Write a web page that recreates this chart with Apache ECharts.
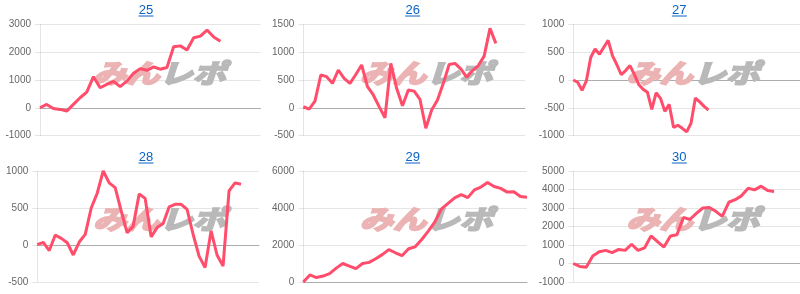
<!DOCTYPE html>
<html><head><meta charset="utf-8">
<script src="https://cdn.jsdelivr.net/npm/echarts@6/dist/echarts.min.js"></script>
<style>html,body{margin:0;padding:0;background:#fff}#c{width:800px;height:294px}</style>
</head><body><div id="c"></div>
<script>
// ---- data ----
const titles = ['25', '26', '27', '28', '29', '30'];
const slotCounts = [34, 39, 53, 38, 35, 36];
const s25 = [0, 120, -25, -60, -120, 120, 360, 565, 1120, 720, 840, 950, 760, 960, 1240, 1410, 1350, 1470, 1390, 1450, 2200, 2230, 2080, 2520, 2580, 2800, 2550, 2400];
const s26 = [18, -25, 120, 590, 560, 440, 680, 530, 440, 600, 770, 380, 230, 20, -180, 800, 350, 35, 320, 300, 150, -370, -40, 140, 440, 780, 800, 700, 550, 670, 760, 930, 1430, 1160];
const s27 = [0, -40, -185, -15, 405, 560, 465, 590, 715, 435, 275, 95, 170, 260, 100, -80, -165, -220, -530, -230, -330, -565, -440, -855, -815, -870, -935, -780, -325, -395, -475, -540];
const s28 = [5, 35, -75, 135, 90, 30, -135, 40, 144, 500, 700, 1000, 840, 775, 460, 165, 255, 690, 630, 110, 235, 290, 515, 550, 550, 480, 145, -150, -305, 190, -135, -285, 730, 840, 820];
const s29 = [0, 380, 240, 320, 450, 750, 1000, 860, 720, 1000, 1060, 1260, 1480, 1750, 1580, 1420, 1800, 1900, 2300, 2750, 3250, 3950, 4250, 4550, 4720, 4560, 4980, 5130, 5380, 5160, 5060, 4860, 4880, 4620, 4580];
const s30 = [0, -160, -200, 400, 640, 710, 590, 760, 710, 1040, 710, 840, 1490, 1180, 890, 1490, 1550, 2490, 2380, 2710, 3000, 3030, 2820, 2550, 3310, 3450, 3670, 4070, 3980, 4180, 3950, 3890];
const yMin = [-1000, -500, -1000, -500, 0, -1000];
const yMax = [3000, 1500, 1000, 1000, 6000, 5000];
const yStep = [1000, 500, 500, 500, 2000, 1000];
const seriesData = [s25, s26, s27, s28, s29, s30];

// ---- layout ----
const gridBoxes = [
  {left: 40, top: 24.5, width: 220.5, height: 111},
  {left: 303.3, top: 24.5, width: 221.7, height: 111},
  {left: 573.3, top: 24.5, width: 226.7, height: 111},
  {left: 37.3, top: 171, width: 221.7, height: 111},
  {left: 303.3, top: 171, width: 223.7, height: 111},
  {left: 573.3, top: 171, width: 226.7, height: 111}
];
const panelLeft = [0, 266.67, 533.33];
const rowTitleY = [10, 157];
const rowLogoY = [73, 219];

const FONT = '"Liberation Sans", Arial, Helvetica, sans-serif';
const grids = [], xAxes = [], yAxes = [], series = [], graphics = [];
for (let i = 0; i < 6; i++) {
  const col = i % 3, row = Math.floor(i / 3);
  grids.push(Object.assign({containLabel: false}, gridBoxes[i]));
  const cats = [];
  for (let k = 0; k < slotCounts[i]; k++) cats.push(String(k + 1));
  xAxes.push({
    type: 'category', gridIndex: i, data: cats, boundaryGap: false,
    axisLine: {show: true, onZero: true, lineStyle: {color: 'rgba(0,0,0,0.25)', width: 1}},
    axisTick: {show: false}, axisLabel: {show: false}, splitLine: {show: false}
  });
  yAxes.push({
    type: 'value', gridIndex: i, min: yMin[i], max: yMax[i], interval: yStep[i],
    axisLine: {show: true, lineStyle: {color: 'rgba(0,0,0,0.1)'}},
    axisTick: {show: true, length: 5, lineStyle: {color: 'rgba(0,0,0,0.1)'}},
    axisLabel: {color: '#666', fontSize: 10, fontFamily: FONT, margin: 9, formatter: v => String(v)},
    splitLine: {show: true, lineStyle: {color: 'rgba(0,0,0,0.1)', width: 1}}
  });
  series.push({
    type: 'line', xAxisIndex: i, yAxisIndex: i, data: seriesData[i],
    showSymbol: false, symbol: 'none', smooth: false, z: 5,
    lineStyle: {color: '#ff4d6b', width: 3}, animation: false
  });
  const px = panelLeft[col];
  graphics.push({
    type: 'text', x: px + 146, y: rowTitleY[row], z: 10,
    style: {text: titles[i], fill: '#0b63c4', font: '13px ' + FONT, align: 'center', verticalAlign: 'middle'}
  });
  graphics.push({
    type: 'line', z: 10,
    shape: {x1: px + 138.5, y1: rowTitleY[row] + 6, x2: px + 153.5, y2: rowTitleY[row] + 6},
    style: {stroke: '#0b63c4', lineWidth: 1}
  });
  graphics.push({
    type: 'text', x: px + 93, y: rowLogoY[row], z: 1, scaleY: 0.82, scaleX: 1.04,
    style: {
      text: '{a|みん}{b|レポ}', verticalAlign: 'middle', align: 'left',
      rich: {
        a: {fill: '#ebb3b3', stroke: '#ebb3b3', lineWidth: 2.5, font: 'italic bold 32px "Noto Sans CJK JP"'},
        b: {fill: '#b9b9b9', stroke: '#b9b9b9', lineWidth: 2.5, font: 'italic bold 32px "Noto Sans CJK JP"'}
      }
    }
  });
}

const chart = echarts.init(document.getElementById('c'), null, {renderer: 'canvas'});
chart.setOption({
  animation: false,
  grid: grids, xAxis: xAxes, yAxis: yAxes, series: series,
  graphic: {elements: graphics}
});
</script></body></html>
